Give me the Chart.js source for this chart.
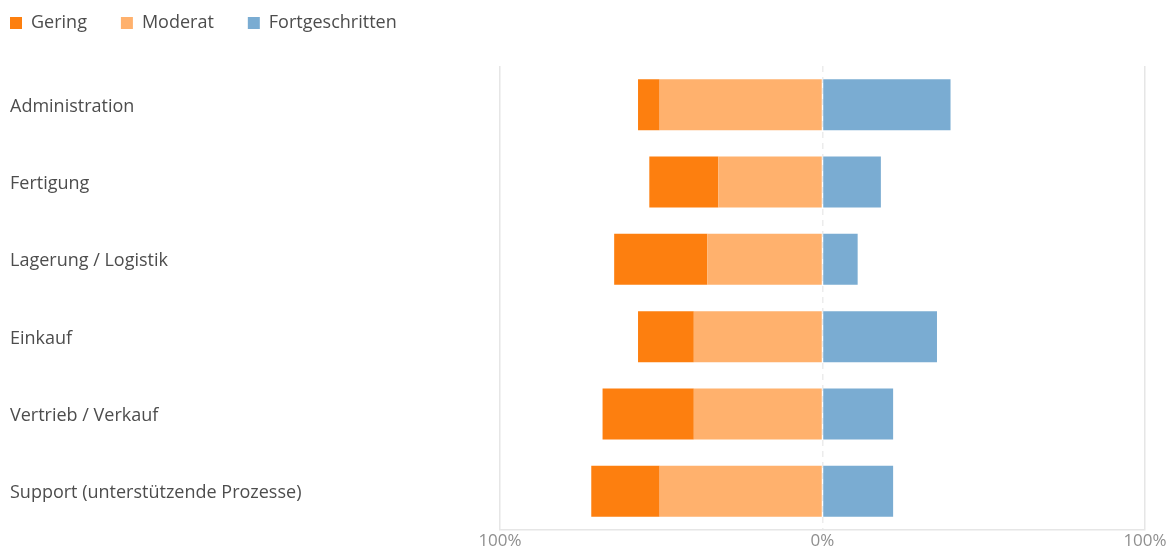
<!DOCTYPE html>
<html>
<head>
<meta charset="utf-8">
<title>Reifegrad nach Bereich</title>
<script src="https://cdn.jsdelivr.net/npm/chart.js@4/dist/chart.umd.min.js"></script>
<style>
  html, body { margin: 0; padding: 0; background: #fff; }
  #wrap { position: relative; width: 1174px; height: 547px; }
</style>
</head>
<body>
<div id="wrap"><canvas id="chart"></canvas></div>
<script>
// Areas and share of answers per maturity level (in %)
const bereiche = [
  'Administration',
  'Fertigung',
  'Lagerung / Logistik',
  'Einkauf',
  'Vertrieb / Verkauf',
  'Support (unterstützende Prozesse)'
];
const gering = [6.7, 21.4, 28.9, 17.3, 28.3, 21.2];
const moderat = [50.5, 32.3, 35.7, 39.9, 39.9, 50.5];
const fortgeschritten = [39.7, 18.1, 10.9, 35.5, 21.9, 21.9];

const axisTicks = [-100, 0, 100];
const legendOrder = ['Gering', 'Moderat', 'Fortgeschritten'];

// Gering/Moderat go left of zero; Moderat is listed first so it sits next to the zero line
const datasets = [
  { label: 'Moderat', data: moderat.map(v => -v), backgroundColor: '#ffb16d' },
  { label: 'Gering', data: gering.map(v => -v), backgroundColor: '#fd7f0f' },
  { label: 'Fortgeschritten', data: fortgeschritten, backgroundColor: '#7aacd2' }
];

const LEGEND_PAD = 34;

// legend: fixed block height, drawn flush to the top-left corner
const legendLayout = {
  id: 'legendLayout',
  beforeInit(chart) {
    const legend = chart.legend;
    const fit = legend.fit;
    legend.fit = function () {
      fit.bind(legend)();
      this.height = 66;
    };
    const draw = legend.draw;
    legend.draw = function () {
      const ctx = this.ctx;
      ctx.save();
      ctx.translate(-LEGEND_PAD, -LEGEND_PAD + 14);
      draw.apply(this, arguments);
      ctx.restore();
    };
  }
};

new Chart(document.getElementById('chart'), {
  type: 'bar',
  data: {
    labels: bereiche,
    datasets: datasets.map(d => Object.assign({
      borderWidth: 0,
      categoryPercentage: 1,
      barPercentage: 0.66
    }, d))
  },
  options: {
    indexAxis: 'y',
    responsive: true,
    maintainAspectRatio: false,
    animation: false,
    layout: { padding: { left: 10, right: 29, top: 0, bottom: 0 } },
    scales: {
      x: {
        stacked: true,
        min: -100,
        max: 100,
        afterBuildTicks: scale => { scale.ticks = axisTicks.map(v => ({ value: v })); },
        afterFit: scale => { scale.height = 17; },
        grid: {
          color: ctx => ctx.tick && ctx.tick.value === 0 ? '#ececec' : '#e6e6e6',
          lineWidth: 1.5,
          drawTicks: false
        },
        border: {
          display: true,
          color: '#e6e6e6',
          width: 1.5,
          dash: ctx => ctx.tick && ctx.tick.value === 0 ? [6, 5] : []
        },
        ticks: {
          padding: 1,
          color: '#8f8f8f',
          font: { family: 'Open Sans', size: 17 },
          callback: v => Math.abs(v) + '%'
        }
      },
      y: {
        stacked: true,
        grid: { display: false },
        border: { display: false },
        afterFit: scale => { scale.width = 490; },
        ticks: {
          crossAlign: 'far',
          labelOffset: 2,
          color: '#4d4d4d',
          font: { family: 'Open Sans', size: 18 }
        }
      }
    },
    plugins: {
      legend: {
        position: 'top',
        align: 'start',
        labels: {
          boxWidth: 12,
          boxHeight: 12,
          padding: LEGEND_PAD,
          color: '#4d4d4d',
          font: { family: 'Open Sans', size: 18 },
          sort: (a, b) => legendOrder.indexOf(a.text) - legendOrder.indexOf(b.text)
        }
      },
      tooltip: {
        callbacks: {
          label: ctx => ctx.dataset.label + ': ' + Math.abs(ctx.parsed.x) + '%'
        }
      }
    }
  },
  plugins: [legendLayout]
});
</script>
</body>
</html>
